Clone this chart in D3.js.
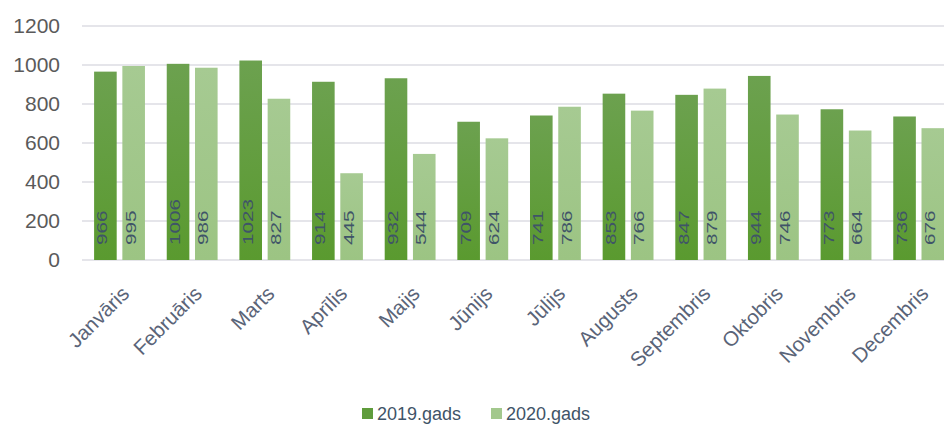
<!DOCTYPE html>
<html><head><meta charset="utf-8">
<script src="https://cdn.jsdelivr.net/npm/d3@7"></script>
<style>body{margin:0;background:#fff}svg{display:block}</style>
</head><body>
<script>
const months = ["Janvāris","Februāris","Marts","Aprīlis","Maijs","Jūnijs","Jūlijs","Augusts","Septembris","Oktobris","Novembris","Decembris"];
const series = ["2019.gads","2020.gads"];
const values2019 = [966,1006,1023,914,932,709,741,853,847,944,773,736];
const values2020 = [995,986,827,445,544,624,786,766,879,746,664,676];
const yTicks = [0,200,400,600,800,1000,1200];

const W=944,H=430;
const FONT="Liberation Sans, Arial, sans-serif";
const svg=d3.select("body").append("svg").attr("width",W).attr("height",H);
const defs=svg.append("defs");
const g1=defs.append("linearGradient").attr("id","g19").attr("x1",0).attr("y1",0).attr("x2",0).attr("y2",1);
g1.append("stop").attr("offset","0%").attr("stop-color","#6ca14f");
g1.append("stop").attr("offset","100%").attr("stop-color","#5a9a2f");
const g2=defs.append("linearGradient").attr("id","g20").attr("x1",0).attr("y1",0).attr("x2",0).attr("y2",1);
g2.append("stop").attr("offset","0%").attr("stop-color","#a6ca92");
g2.append("stop").attr("offset","100%").attr("stop-color","#9cc483");
const fills=["url(#g19)","url(#g20)"];
const legendFills=["#5f9c3c","#a3c88d"];

const x0=83.2, x1=955, yTop=26, yBot=260;
const x=d3.scaleBand().domain(months).range([x0,x1]).paddingInner(0.3).paddingOuter(0.15);
const xs=d3.scaleBand().domain(series).range([0,x.bandwidth()]).paddingInner(0.2);
const y=d3.scaleLinear().domain([0,1200]).range([yBot,yTop]);

// grid
svg.append("g").selectAll("line").data(yTicks).join("line")
  .attr("x1",82).attr("x2",W).attr("y1",d=>y(d)).attr("y2",d=>y(d))
  .attr("stroke","#dcdde3").attr("stroke-width",1.5);

// y axis
const yAxis=d3.axisLeft(y).tickValues(yTicks).tickFormat(d3.format("d")).tickSize(0).tickPadding(0);
const ya=svg.append("g").attr("transform","translate(60,0)").call(yAxis);
ya.select(".domain").remove();
ya.selectAll("text").attr("font-family",FONT).attr("font-size",21).attr("fill","#5a5a5a");

const data=months.map((m,i)=>({m,v:[values2019[i],values2020[i]]}));
const grp=svg.append("g").selectAll("g").data(data).join("g").attr("transform",d=>`translate(${x(d.m)},0)`);
grp.selectAll("rect").data(d=>d.v.map((v,j)=>({v,s:series[j],j}))).join("rect")
  .attr("x",d=>xs(d.s)).attr("width",xs.bandwidth())
  .attr("y",d=>y(d.v)).attr("height",d=>y(0)-y(d.v))
  .attr("fill",d=>fills[d.j]);
grp.selectAll("text").data(d=>d.v.map((v,j)=>({v,s:series[j],j}))).join("text")
  .attr("transform",d=>`translate(${xs(d.s)+xs.bandwidth()/2+2},${y(0)-15}) rotate(-90) scale(1.38,1)`)
  .attr("font-family",FONT).attr("font-size",15)
  .attr("fill","#3f5468").text(d=>d.v);

// x axis labels
const xAxis=d3.axisBottom(x).tickSize(0).tickPadding(0);
const xa=svg.append("g").attr("transform",`translate(0,${yBot})`).call(xAxis);
xa.select(".domain").remove();
xa.selectAll("text").attr("text-anchor","end").attr("dy",0).attr("y",0)
  .attr("transform","translate(11,35) rotate(-45)")
  .attr("font-family",FONT).attr("font-size",20.5).attr("fill","#5a6478");

// legend
const lg=svg.append("g").attr("transform","translate(362,414)");
const items=lg.selectAll("g").data(series).join("g").attr("transform",(d,i)=>`translate(${i*129},0)`);
items.append("rect").attr("x",0).attr("y",-6).attr("width",11).attr("height",11).attr("fill",(d,i)=>legendFills[i]);
items.append("text").attr("x",15).attr("y",6).attr("font-family",FONT).attr("font-size",18).attr("fill","#3f5468").text(d=>d);
</script>
</body></html>
